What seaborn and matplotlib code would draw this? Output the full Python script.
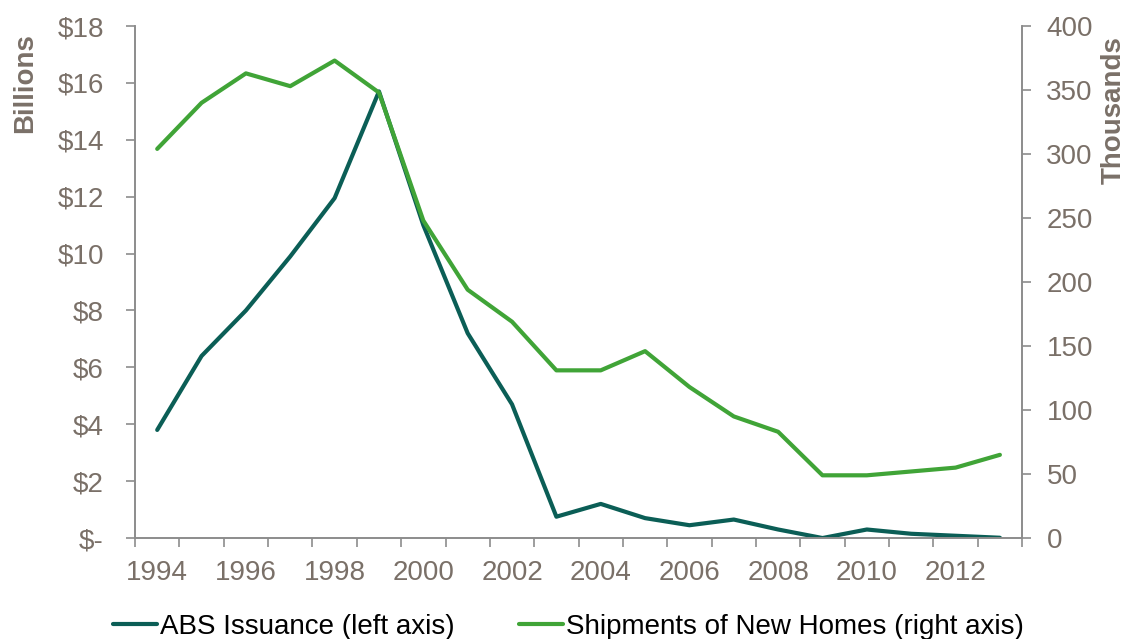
import matplotlib
matplotlib.use('Agg')
import matplotlib.pyplot as plt
import seaborn as sns
import numpy as np
from matplotlib.ticker import FixedLocator, FuncFormatter

years = list(range(1994, 2014))
abs_issuance = [3.8, 6.4, 8.0, 9.9, 11.95, 15.7, 11.0, 7.2, 4.7, 0.75,
                1.2, 0.7, 0.45, 0.65, 0.3, 0.0, 0.3, 0.15, 0.08, 0.01]
shipments = [304, 340, 363, 353, 373, 348, 248, 194, 169, 131,
             131, 146, 118, 95, 83, 49, 49, 52, 55, 65]

left_ticks = list(range(0, 20, 2))
right_ticks = list(range(0, 450, 50))

GRAY = '#7a7068'
SPINE = '#8c8c8c'
ABS_COLOR = '#0b5e56'
SHIP_COLOR = '#40a437'

sns.set_style('white')
plt.rcParams['font.family'] = ['Liberation Sans', 'DejaVu Sans']

fig = plt.figure(figsize=(11.3, 6.39), dpi=100)
ax = fig.add_axes([0.1195, 0.158, 0.785, 0.8013])
pos = np.arange(len(years))

sns.lineplot(x=pos, y=abs_issuance, ax=ax, color=ABS_COLOR, linewidth=3,
             label='ABS Issuance (left axis)', legend=False)
ax2 = ax.twinx()
sns.lineplot(x=pos, y=shipments, ax=ax2, color=SHIP_COLOR, linewidth=3,
             label='Shipments of New Homes (right axis)', legend=False)

ax.set_xlim(-0.5, len(years) - 0.5)
ax.set_ylim(0, 18)
ax2.set_ylim(0, 400)

# year labels at even years, tick marks on category boundaries
label_pos = [i for i, y in enumerate(years) if y % 2 == 0]
ax.xaxis.set_major_locator(FixedLocator(label_pos))
ax.set_xticklabels([str(years[i]) for i in label_pos])
ax.xaxis.set_minor_locator(FixedLocator(np.arange(-0.5, len(years), 1.0)))
ax.tick_params(axis='x', which='major', length=0, pad=16, labelsize=20, labelcolor=GRAY)
ax.tick_params(axis='x', which='minor', length=6.5, width=1.2, color=SPINE, direction='out', bottom=True)

ax.set_yticks(left_ticks)
ax.yaxis.set_major_formatter(FuncFormatter(lambda v, p: '$-' if v == 0 else f'${int(v)}'))
ax.tick_params(axis='y', length=6.5, width=1.2, color=SPINE, direction='out', left=True,
               labelsize=20, labelcolor=GRAY, pad=16)
ax2.set_yticks(right_ticks)
ax2.tick_params(axis='y', length=6.5, width=1.2, color=SPINE, direction='out', right=True,
                labelsize=20, labelcolor=GRAY, pad=11)

for a in (ax, ax2):
    a.spines['top'].set_visible(False)
    for s in ('left', 'right', 'bottom'):
        a.spines[s].set_color(SPINE)
        a.spines[s].set_linewidth(1.2)
    a.grid(False)
    a.set_xlabel('')

ax.set_ylabel('Billions', fontsize=20, fontweight='bold', color=GRAY)
ax.yaxis.label.set_va('center')
ax.yaxis.label.set_ha('center')
ax.yaxis.set_label_coords(-0.124, 0.889)
ax2.set_ylabel('Thousands', fontsize=20, fontweight='bold', color=GRAY, rotation=90)
ax2.yaxis.label.set_va('center')
ax2.yaxis.label.set_ha('center')
ax2.yaxis.set_label_coords(1.103, 0.836)

h1, l1 = ax.get_legend_handles_labels()
h2, l2 = ax2.get_legend_handles_labels()
fig.legend(h1 + h2, l1 + l2, loc='lower center', bbox_to_anchor=(0.503, -0.04), ncol=2,
           frameon=False, fontsize=20, handlelength=1.6, handletextpad=0.1,
           columnspacing=2.3, labelcolor='black')

fig.savefig('out.png', dpi=100)
